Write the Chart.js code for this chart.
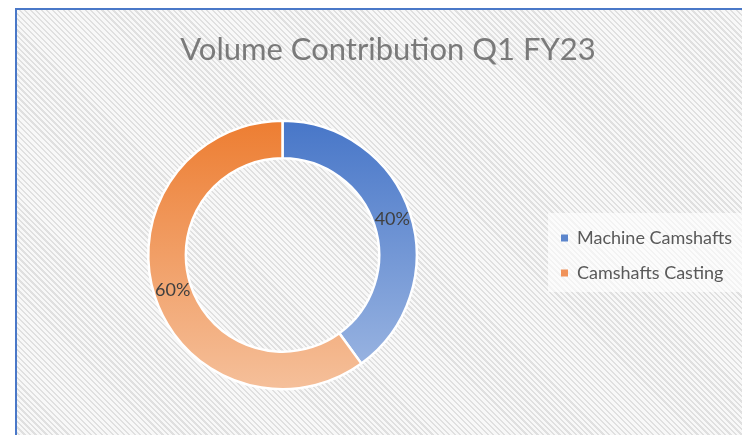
<!DOCTYPE html>
<html><head><meta charset="utf-8">
<script src="https://cdn.jsdelivr.net/npm/chart.js@4"></script>
<style>
html,body{margin:0;padding:0;background:#fff;}
#wrap{position:relative;width:742px;height:435px;overflow:hidden;background:#fff;}
#frame{position:absolute;left:15px;top:8px;width:760px;height:460px;border-left:2px solid #4a78c8;border-top:2px solid #4a78c8;
background:repeating-linear-gradient(45deg,#f8f8f8 0px,#f8f8f8 2.3px,#e0e0e0 2.3px,#e0e0e0 3.9px);}
#legbox{position:absolute;left:548px;top:213px;width:196px;height:79px;background:rgba(255,255,255,0.6);}
canvas{position:absolute;left:0;top:0;}
</style></head>
<body><div id="wrap"><div id="frame"></div><div id="legbox"></div><canvas id="c" width="742" height="435"></canvas></div>
<script>
const titleText = "Volume Contribution Q1 FY23";
const categories = ["Machine Camshafts", "Camshafts Casting"];
const values = [40, 60];
const pctLabels = ["40%", "60%"];
const topColors = ["#4776c8", "#ed7d31"];
const bottomColors = ["#a0b9e3", "#f5c09b"];
const legendColors = ["#5b85cc", "#f0925a"];

function grad(ctx, i){
  const ch = ctx.chart; const a = ch.chartArea;
  if(!a) return topColors[i];
  const g = ch.ctx.createLinearGradient(0, a.top, 0, a.bottom);
  g.addColorStop(0, topColors[i]); g.addColorStop(1, bottomColors[i]);
  return g;
}

const overlay = {
  id:'overlay',
  afterDraw(chart){
    const c = chart.ctx;
    c.save();
    c.fillStyle = '#7a7a7a';
    c.font = '31px Lato';
    c.textAlign = 'center'; c.textBaseline = 'alphabetic';
    c.fillText(titleText, 388, 60);
    const meta = chart.getDatasetMeta(0);
    c.fillStyle = '#404040';
    c.font = '18px Lato';
    c.textBaseline = 'middle';
    meta.data.forEach((arc,i)=>{
      const p = arc.tooltipPosition();
      c.fillText(pctLabels[i], p.x, p.y);
    });
    c.textAlign = 'left';
    categories.forEach((lab,i)=>{
      const y = 238 + i*35;
      c.fillStyle = legendColors[i];
      c.fillRect(561, y-3.5, 7, 7);
      c.fillStyle = '#595959';
      c.font = '18px Lato';
      c.fillText(lab, 577, y);
    });
    c.restore();
  }
};

new Chart(document.getElementById('c'), {
  type:'doughnut',
  data:{ labels:categories, datasets:[{ data:values,
    backgroundColor:(ctx)=>grad(ctx, ctx.dataIndex),
    borderColor:'#ffffff', borderWidth:2.5 }]},
  options:{
    responsive:false, animation:false, cutout:'72%',
    layout:{padding:{left:147, right:324, top:119, bottom:44}},
    plugins:{legend:{display:false}, title:{display:false}, tooltip:{enabled:false}}
  },
  plugins:[overlay]
});
</script></body></html>
